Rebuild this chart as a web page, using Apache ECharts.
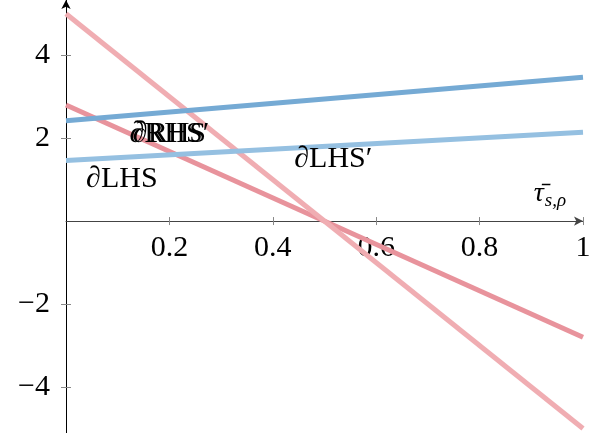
<!DOCTYPE html>
<html>
<head>
<meta charset="utf-8">
<style>
  html, body { margin: 0; padding: 0; background: #fff; }
  #chart { width: 589px; height: 433px; }
</style>
<script src="https://cdn.jsdelivr.net/npm/echarts@6/dist/echarts.min.js"></script>
</head>
<body>
<div id="chart"></div>
<script>
// End points of each line at x = 0 and x = 1
const xEnds = [0, 1];
const rhsSteep = [5.0, -5.0];
const rhs = [2.8, -2.8];
const lhsUpper = [2.42, 3.47];
const lhsLower = [1.46, 2.14];

// Tick positions
const xTicks = [0.2, 0.4, 0.6, 0.8, 1];
const yTicks = [-4, -2, 2, 4];

// Curve names
const names = ['\u2202RHS', '\u2202RHS\u2032', '\u2202LHS', '\u2202LHS\u2032'];

const FONT = "'Liberation Serif', 'DejaVu Serif', serif";
const FS = 30;
const W = 589, H = 433;
const GRID = { left: 66, right: 6, top: 0, bottom: 0 };

function pairs(ys) { return xEnds.map((x, i) => [x, ys[i]]); }

function lineSeries(name, ys, color, z) {
  return {
    type: 'line', name: name, data: pairs(ys), showSymbol: false, symbol: 'none',
    lineStyle: { color: color, width: 5 }, z: z, silent: true, animation: false
  };
}

// Annotation anchors in data space
const notes = [
  { text: names[0], at: [0.2, 2.1] },
  { text: names[1], at: [0.2, 2.1] },
  { text: names[2], at: [0.108, 1.02] },
  { text: names[3], at: [0.517, 1.5] }
];

const chart = echarts.init(document.getElementById('chart'), null, { renderer: 'canvas' });

const yMin = -5.11, yMax = 5.33;
// the horizontal axis sits at y = 0, measured up from the grid's bottom edge
const gridH = H - GRID.top - GRID.bottom;
const zeroLift = (0 - yMin) / (yMax - yMin) * gridH;

const minus = v => String(v).replace('-', '\u2212');
const plain = { textBorderWidth: 0, textShadowBlur: 0, opacity: 1 };
const tickStyle = { color: '#888', width: 1 };

// a bare copy of an axis that only draws inward ticks, so ticks cross the axis line
function innerTicks(base, ticks, len) {
  return Object.assign({}, base, {
    axisLine: { show: false, onZero: false },
    axisTick: { show: true, inside: true, length: len, customValues: ticks, lineStyle: tickStyle },
    axisLabel: { show: false },
    splitLine: { show: false }
  });
}

const xBase = { type: 'value', min: 0, max: 1, position: 'bottom', offset: -zeroLift };
const yBase = { type: 'value', min: yMin, max: yMax, position: 'left', offset: 0 };

const option = {
  animation: false,
  backgroundColor: '#fff',
  grid: Object.assign({ containLabel: false, outerBoundsMode: 'none' }, GRID),
  xAxis: [
    Object.assign({}, xBase, {
      axisLine: { onZero: false, lineStyle: { color: '#444', width: 1 }, symbol: ['none', 'arrow'], symbolSize: [7, 9] },
      axisTick: { show: true, length: 4, customValues: xTicks, lineStyle: tickStyle },
      axisLabel: { customValues: xTicks, margin: 12, color: '#000', fontFamily: FONT, fontSize: FS },
      splitLine: { show: false }
    }),
    innerTicks(xBase, xTicks, 4)
  ],
  yAxis: [
    Object.assign({}, yBase, {
      axisLine: { show: true, onZero: false, lineStyle: { color: '#000', width: 1 }, symbol: ['none', 'arrow'], symbolSize: [7, 9] },
      axisTick: { show: true, length: 5, customValues: yTicks, lineStyle: tickStyle },
      axisLabel: { customValues: yTicks, margin: 16, color: '#000', fontFamily: FONT, fontSize: FS, formatter: minus },
      splitLine: { show: false }
    }),
    innerTicks(yBase, yTicks, 5)
  ],
  series: [
    lineSeries(names[0], rhs, '#e8939c', 2),
    lineSeries(names[1], rhsSteep, '#f0adb2', 3),
    lineSeries(names[2], lhsLower, '#95c0e1', 4),
    lineSeries(names[3], lhsUpper, '#75aad4', 5),
    {
      type: 'scatter', symbolSize: 0, silent: true, z: 10, itemStyle: { opacity: 1 },
      data: notes.map(n => ({ value: n.at, label: { formatter: n.text } })),
      label: Object.assign({ show: true, position: 'inside', color: '#000', fontFamily: FONT, fontSize: FS }, plain)
    },
    {
      type: 'scatter', symbolSize: 0, silent: true, z: 10, itemStyle: { opacity: 1 },
      data: [[0.936, 0.66]],
      label: Object.assign({
        show: true, position: 'inside', color: '#000',
        formatter: '{t|\u03C4\u0304}{s|s,\u03C1}',
        rich: {
          t: { fontFamily: FONT, fontStyle: 'italic', fontSize: 28, color: '#000' },
          s: { fontFamily: FONT, fontStyle: 'italic', fontSize: 19, color: '#000', padding: [14, 0, 0, 1] }
        }
      }, plain)
    }
  ]
};
chart.setOption(option);
</script>
</body>
</html>
